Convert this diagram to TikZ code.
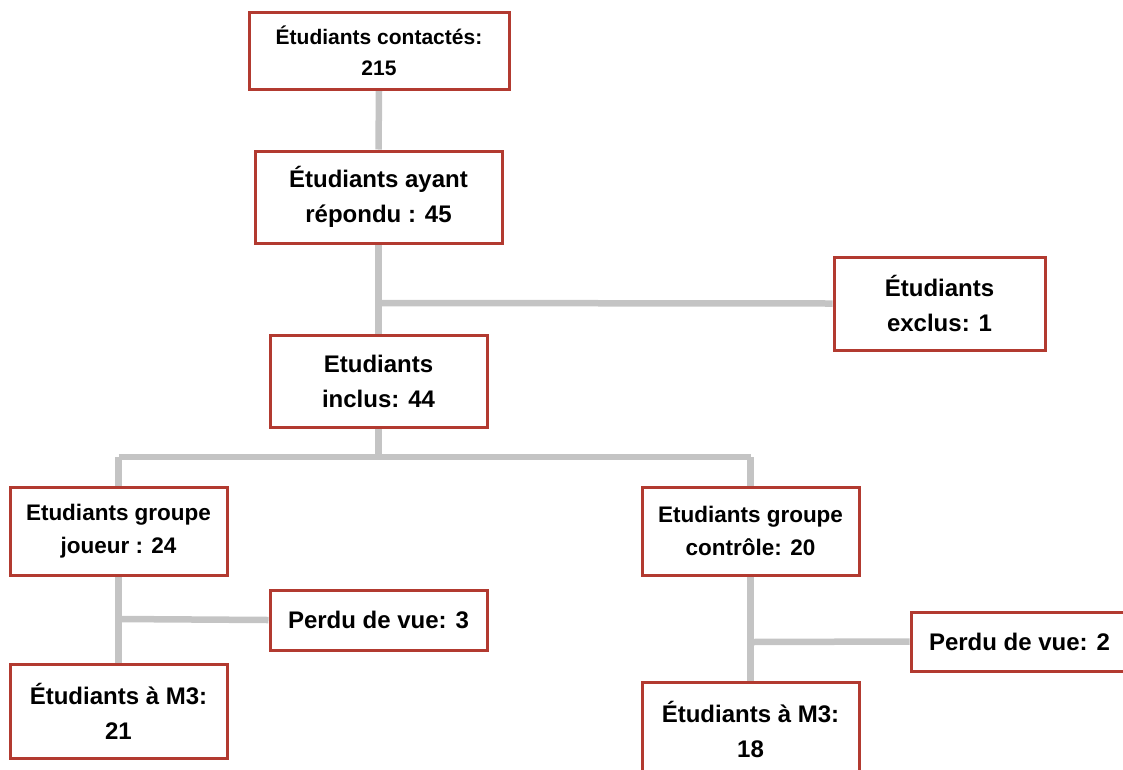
\documentclass[tikz,border=0pt]{standalone}
\usepackage{fontspec}
\setmainfont{Liberation Sans}
\usetikzlibrary{backgrounds}
\definecolor{boxred}{HTML}{B23A30}
\definecolor{linegray}{HTML}{C4C4C4}
\begin{document}
\begin{tikzpicture}[x=1pt,y=-1pt,
  box/.style={draw=boxred, line width=3pt, fill=white, rectangle, inner sep=0pt,
    align=center, font=\fontsize{24}{35}\selectfont\bfseries},
  link/.style={draw=linegray, line width=6.5pt}]
\useasboundingbox (0,0) rectangle (1123,769);
\node[box, minimum width=260pt, minimum height=77pt, font=\fontsize{21}{31}\selectfont\bfseries] (b1) at (379,50.5) {Étudiants contactés:\\215};
\node[box, minimum width=247pt, minimum height=92pt] (b2) at (378.5,197) {Étudiants ayant\\répondu : 45};
\node[box, minimum width=211pt, minimum height=93pt] (b3) at (939.5,303.5) {Étudiants\\exclus: 1};
\node[box, minimum width=217pt, minimum height=92pt] (b4) at (378.5,381) {Etudiants\\inclus: 44};
\node[box, minimum width=217pt, minimum height=88pt, font=\fontsize{22.5}{33}\selectfont\bfseries] (b5) at (118.5,531) {Etudiants groupe\\joueur : 24};
\node[box, minimum width=217pt, minimum height=88pt, font=\fontsize{22.5}{33}\selectfont\bfseries] (b6) at (750.5,531) {Etudiants groupe\\contrôle: 20};
\node[box, minimum width=217pt, minimum height=60pt] (b7) at (378.5,620) {Perdu de vue: 3};
\node[box, minimum width=217pt, minimum height=59pt] (b8) at (1019.5,641.5) {Perdu de vue: 2};
\node[box, minimum width=217pt, minimum height=94pt] (b9) at (118.5,711) {Étudiants à M3:\\21};
\node[box, minimum width=217pt, minimum height=94pt] (b10) at (750.5,729) {Étudiants à M3:\\18};
\coordinate (j1) at (378.5,303);
\coordinate (j2) at (378.5,457);
\coordinate (j3) at (118.5,619);
\coordinate (j4) at (750.5,642);
\begin{scope}[on background layer]
\draw[link] (b1.south) -- (b2.north);
\draw[link] (b2.south) -- (b4.north);
\draw[link] (j1) -- (b3.west);
\draw[link] (b4.south) -- (j2);
\draw[link] (j2 -| b5.north) -- (j2 -| b6.north);
\draw[link] (j2 -| b5.north) -- (b5.north);
\draw[link] (j2 -| b6.north) -- (b6.north);
\draw[link] (b5.south) -- (b9.north);
\draw[link] (j3) -- (b7.west);
\draw[link] (b6.south) -- (b10.north);
\draw[link] (j4) -- (b8.west);
\end{scope}
\end{tikzpicture}
\end{document}
